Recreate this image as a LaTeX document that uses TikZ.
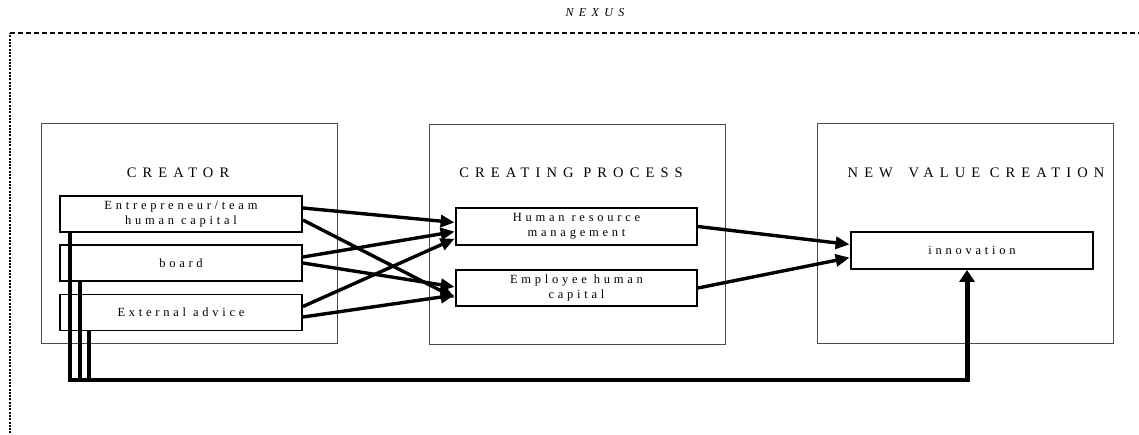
\documentclass[tikz,border=0pt]{standalone}
\usepackage{fontspec}
\setmainfont{Liberation Serif}
\newfontfamily\titlefont[LetterSpace=42]{Liberation Serif}
\newfontfamily\boxfont[LetterSpace=30]{Liberation Serif}
\usetikzlibrary{arrows.meta}
\tikzset{
  bigbox/.style={draw=black!70, line width=0.8pt, minimum width=296pt, minimum height=220pt, inner sep=0pt},
  smallbox/.style={draw=black, line width=1.8pt, minimum width=242pt, minimum height=36pt, inner sep=0pt,
    align=center, font=\boxfont\fontsize{12.5}{15}\selectfont},
  ttl/.style={font=\titlefont\fontsize{14.5}{17}\selectfont, inner sep=0pt},
  link/.style={line width=3.4pt, -{Triangle[length=14pt,width=12pt]}, shorten >=0.5pt},
  fbv/.style={line width=4.2pt},
  fbh/.style={line width=3.2pt},
  fbup/.style={line width=5pt, -{Triangle[length=12pt,width=15pt]}},
}
\begin{document}
\begin{tikzpicture}[x=1pt,y=-1pt]
\useasboundingbox (0,0) rectangle (1139,434);
% frame
\draw[line width=1.8pt, dash pattern=on 5pt off 3pt] (10,33) -- (1145,33);
\draw[line width=2.4pt, dash pattern=on 2pt off 1.3pt] (10,440) -- (10,33);
\node[font=\itshape\addfontfeatures{LetterSpace=45}\fontsize{12}{14}\selectfont, inner sep=0pt] (nexus) at (595,13) {NEXUS};
% big boxes
\node[bigbox] (creator) at (189,233.5) {};
\node[bigbox] (process) at (577,234) {};
\node[bigbox] (value) at (965,233.5) {};
\node[ttl] (t1) at (178,173) {CREATOR};
\node[ttl] (t2) at (571,173) {CREATING PROCESS};
\node[ttl] (t3) at (976,173) {NEW\hspace{6pt} VALUE CREATION};
% small boxes
\node[smallbox] (ent) at (181,214) {Entrepreneur/team\\human capital};
\node[smallbox] (board) at (181,263) {board};
\node[smallbox] (ext) at (181,312.5) {External advice};
\node[smallbox, minimum width=241pt, minimum height=37pt] (hrm) at (576.5,226.5) {Human resource\\management};
\node[smallbox, minimum width=241pt, minimum height=36pt] (emp) at (576.5,288) {Employee human\\capital};
\node[smallbox, minimum width=242pt, minimum height=37pt] (innov) at (972,250.5) {innovation};
% links creator -> process
\draw[link] ([yshift=6pt]ent.east) -- ([yshift=4pt]hrm.west);
\draw[link] ([yshift=-6pt]ent.east) -- ([yshift=-10pt]emp.west);
\draw[link] ([yshift=6pt]board.east) -- ([yshift=-5pt]hrm.west);
\draw[link] ([yshift=0pt]board.east) -- ([yshift=1pt]emp.west);
\draw[link] ([yshift=6pt]ext.east) -- ([yshift=-12pt]hrm.west);
\draw[link] ([yshift=-4.5pt]ext.east) -- ([yshift=-7pt]emp.west);
% links process -> innovation
\draw[link] (hrm.east) -- ([yshift=6pt]innov.west);
\draw[link] (emp.east) -- ([yshift=-7pt]innov.west);
% feedback
\coordinate (v1) at (70,380);
\coordinate (v2) at (80,380);
\coordinate (v3) at (89,380);
\coordinate (loopL) at (68,380);
\coordinate (corner) at (967,380);
\draw[fbv] (v1 |- ent.south) -- ([yshift=-1.6pt]v1);
\draw[fbv] (v2 |- board.south) -- ([yshift=-1.6pt]v2);
\draw[fbv] (v3 |- ext.south) -- ([yshift=-1.6pt]v3);
\draw[fbh] (loopL) -- (corner);
\draw[fbup] ([yshift=-1.6pt]corner) -- (corner |- innov.south);
\end{tikzpicture}
\end{document}
